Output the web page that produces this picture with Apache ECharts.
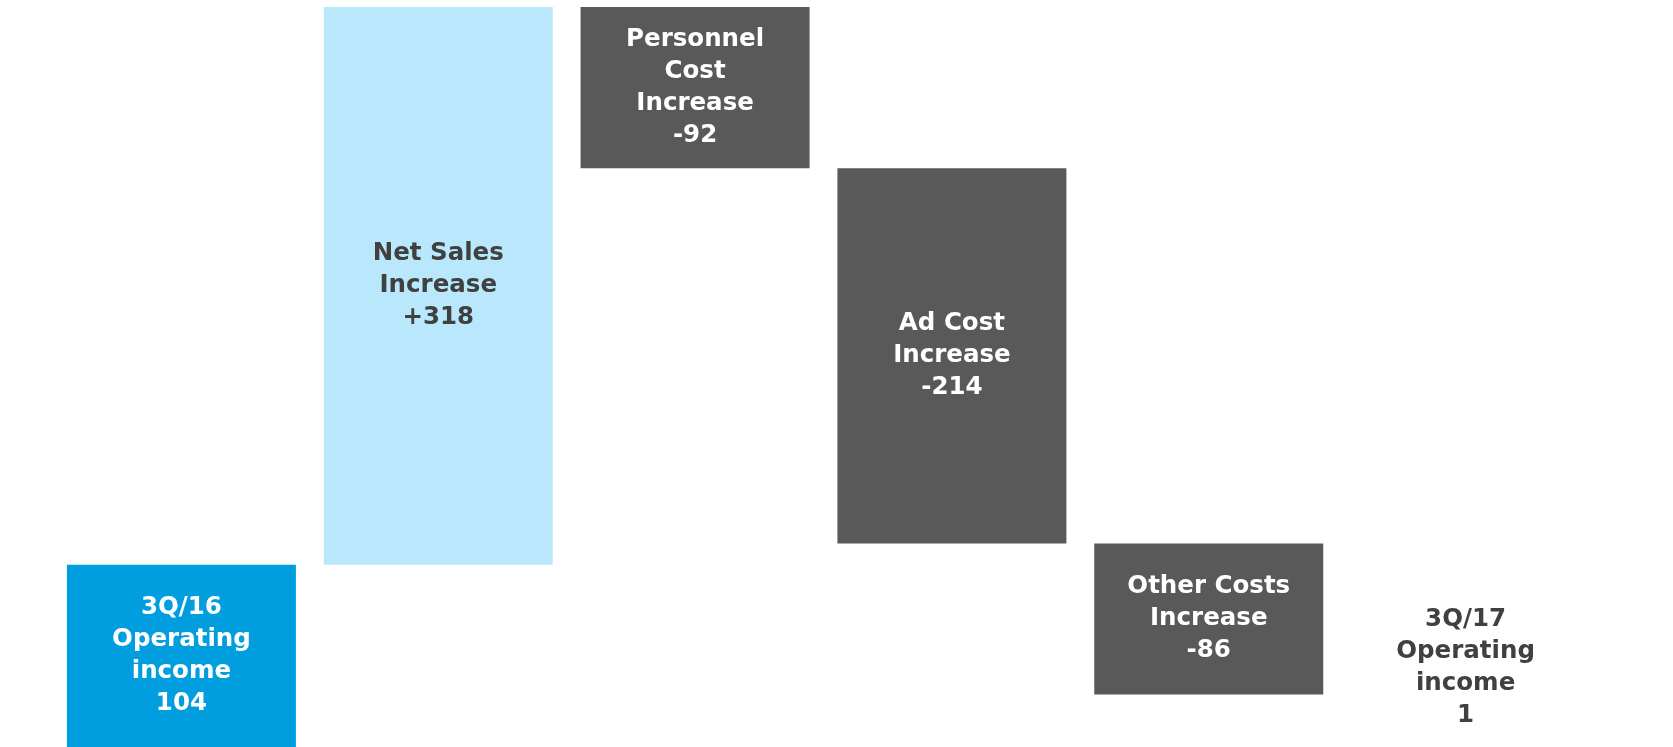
<!DOCTYPE html>
<html>
<head>
<meta charset="utf-8">
<title>Operating income bridge 3Q/16 to 3Q/17</title>
<script src="https://cdn.jsdelivr.net/npm/echarts@6/dist/echarts.min.js"></script>
<style>
  html, body { margin: 0; padding: 0; background: #ffffff; }
  #chart { width: 1673px; height: 747px; }
</style>
</head>
<body>
<div id="chart"></div>
<script>
// Bridge steps: first and last are totals, the rest are changes
const categories = [
  '3Q/16\nOperating\nincome',
  'Net Sales\nIncrease',
  'Personnel\nCost\nIncrease',
  'Ad Cost\nIncrease',
  'Other Costs\nIncrease',
  '3Q/17\nOperating\nincome'
];
const stepValues = [104, 318, -92, -214, -86, 1];
const stepKinds = ['total', 'up', 'down', 'down', 'down', 'total'];

const kindStyle = {
  total: { color: '#009EDE', text: '#ffffff' },
  up: { color: '#B9E8FD', text: '#404040' },
  down: { color: '#595959', text: '#ffffff' }
};

// Build invisible base + visible segment for the waterfall
const baseData = [];
const barData = [];
let running = 0;
stepValues.forEach((v, i) => {
  const kind = stepKinds[i];
  let base, size;
  if (kind === 'total') {
    base = 0; size = v; running = v;
  } else {
    const next = running + v;
    base = Math.min(running, next);
    size = Math.abs(v);
    running = next;
  }
  baseData.push(base);
  const last = i === stepValues.length - 1;
  barData.push({
    value: size,
    itemStyle: { color: last ? 'transparent' : kindStyle[kind].color },
    label: last
      ? { position: 'top', distance: 14, color: '#404040' }
      : { position: 'inside', color: kindStyle[kind].text }
  });
});

const chart = echarts.init(document.getElementById('chart'), null, { renderer: 'canvas' });
chart.setOption({
  animation: false,
  backgroundColor: '#ffffff',
  grid: { left: 53, right: 79, top: 7, bottom: -4, containLabel: false },
  xAxis: {
    type: 'category',
    data: categories,
    show: false
  },
  yAxis: {
    type: 'value',
    min: 0,
    max: 422,
    show: false,
    splitLine: { show: false }
  },
  series: [
    {
      type: 'bar',
      stack: 'bridge',
      data: baseData,
      itemStyle: { color: 'transparent' },
      silent: true,
      barWidth: 229
    },
    {
      type: 'bar',
      stack: 'bridge',
      data: barData,
      barWidth: 229,
      label: {
        show: true,
        fontFamily: 'DejaVu Sans',
        fontWeight: 'bold',
        fontSize: 24.5,
        lineHeight: 32,
        align: 'center',
        formatter: (p) => {
          const v = stepValues[p.dataIndex];
          const kind = stepKinds[p.dataIndex];
          const num = kind === 'total' ? String(v) : (v > 0 ? '+' + v : String(v));
          return categories[p.dataIndex] + '\n' + num;
        }
      }
    }
  ]
});
</script>
</body>
</html>
